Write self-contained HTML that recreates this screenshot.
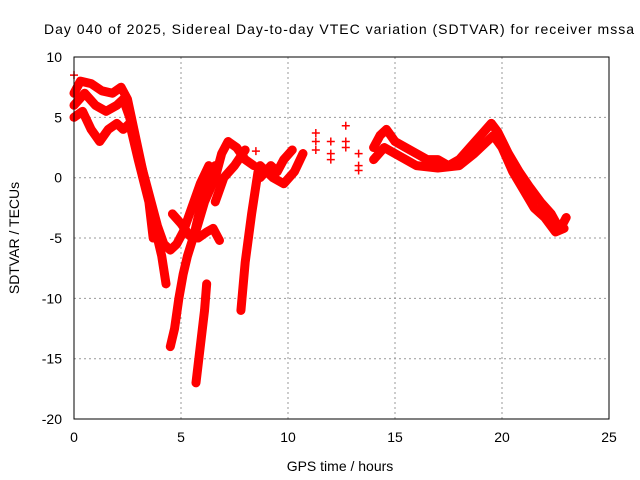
<!DOCTYPE html>
<html><head><meta charset="utf-8"><style>
body{margin:0;background:#fff}
svg{display:block;font-family:"Liberation Sans",sans-serif}
</style></head><body>
<svg id="c" width="640" height="480">
<text x="339" y="34" text-anchor="middle" font-size="14" textLength="590" lengthAdjust="spacing">Day 040 of 2025, Sidereal Day-to-day VTEC variation (SDTVAR) for receiver mssa</text>
<text x="340" y="471" text-anchor="middle" font-size="14">GPS time / hours</text>
<text transform="translate(19,238) rotate(-90)" text-anchor="middle" font-size="14">SDTVAR / TECUs</text>
<g id="grid"></g><g id="marks"></g><g id="ticks"></g>
<rect x="74" y="57" width="535" height="362" fill="none" stroke="#000"/>
</svg>
<script>
const xTicks=[0,5,10,15,20,25];
const yTicks=[10,5,0,-5,-10,-15,-20];
const track1=[[0,7],[0.3,8],[0.8,7.8],[1.3,7.2],[1.8,7],[2.2,7.5],[2.5,6.5],[2.8,4],[3.1,1.5],[3.4,-1],[3.7,-3],[3.9,-5],[4.1,-6.5],[4.3,-8.8]];
const track2=[[0,6],[0.5,7],[1,6],[1.5,5.5],[2,6],[2.3,6.5],[2.6,5],[3,2],[3.3,0],[3.6,-2],[3.9,-4],[4.2,-5.5],[4.5,-6],[4.8,-5.5],[5.1,-4.5],[5.5,-2.5],[5.9,-0.5],[6.3,1]];
const track3=[[0,5],[0.4,5.5],[0.8,4],[1.2,3],[1.6,4],[2,4.5],[2.3,4],[2.6,4.5],[3,1.5],[3.5,-2],[3.7,-5]];
const track4=[[4.5,-14],[4.7,-12.5],[4.9,-10],[5.1,-8],[5.3,-6.5],[5.6,-4.8],[5.9,-2.5],[6.2,-0.5],[6.6,1]];
const track5=[[5.7,-17],[5.9,-14],[6.1,-11],[6.2,-8.8]];
const track6=[[7.8,-11],[8,-7],[8.3,-3],[8.6,0.5]];
const track7=[[4.6,-3],[5,-3.8],[5.4,-4.8],[5.8,-5],[6.2,-4.5],[6.5,-4.2],[6.8,-5.2]];
const track8=[[5.6,-5],[6.1,-2],[6.6,0],[6.9,2],[7.2,3],[7.6,2.5],[8,1.5],[8.4,1]];
const track9=[[6.6,-2],[7,0],[7.5,1],[8,2.3]];
const track10=[[8.7,0],[9.2,1],[9.5,0.5],[9.8,1.5],[10.2,2.3]];
const track11=[[8.7,1],[9.3,0],[9.8,-0.5],[10.3,0.5],[10.7,2]];
const track12=[[14,2.5],[14.3,3.5],[14.6,4],[15,3],[15.5,2.5],[16,2],[16.5,1.5],[17,1.5],[17.5,1],[18,1.5],[18.5,2.5],[19,3.5],[19.5,4.5],[19.8,3.8],[20.3,2],[20.8,0.5],[21.3,-0.8],[21.8,-2],[22.3,-3],[22.7,-4.3],[23,-3.3]];
const track13=[[14,1.5],[14.5,2.5],[15,2],[16,1],[17,0.8],[18,1],[18.7,2],[19.3,3],[19.6,3.5],[20,2.5],[20.5,0.5],[21,-1],[21.5,-2.5],[22,-3.3],[22.5,-4.5],[22.9,-4.2]];
const scatter=[[11.3,3.7],[11.3,3],[11.3,2.3],[12,3],[12,2],[12,1.5],[12.7,4.3],[12.7,3],[12.7,2.5],[13.3,2],[13.3,1],[13.3,0.6],[8.5,2.2],[0,8.5]];
const tracks=[track1,track2,track3,track4,track5,track6,track7,track8,track9,track10,track11,track12,track13];
const X=t=>74+t*21.4, Y=v=>177.7-v*12.067;
const NS="http://www.w3.org/2000/svg";
function mk(tag,at,parent){const e=document.createElementNS(NS,tag);for(const k in at)e.setAttribute(k,at[k]);parent.appendChild(e);return e;}
const grid=document.getElementById('grid'),marks=document.getElementById('marks'),ticks=document.getElementById('ticks');
xTicks.forEach(t=>{
 if(t>0&&t<25){const g=mk('line',{x1:X(t),x2:X(t),y1:57,y2:419,stroke:'#999','stroke-dasharray':'2,3'},grid);
 
 }
 const l=mk('text',{x:X(t),y:442,'text-anchor':'middle','font-size':14},ticks);l.textContent=t;
 
 
});
yTicks.forEach(v=>{
 if(v<10&&v>-20){const g=mk('line',{x1:74,x2:609,y1:Y(v),y2:Y(v),stroke:'#999','stroke-dasharray':'2,3'},grid);
 
 }
 const l=mk('text',{x:62,y:Y(v)+5,'text-anchor':'end','font-size':14},ticks);l.textContent=v;
 
 
});
function plus(t,v){const p=mk('path',{d:`M${X(t)-4},${Y(v)}h8M${X(t)},${Y(v)-4}v8`,stroke:'#f00','stroke-width':1.5},marks);
 
 }
tracks.forEach(tr=>{
 const pl=mk('polyline',{points:tr.map(p=>X(p[0])+','+Y(p[1])).join(' '),fill:'none',stroke:'#f00','stroke-width':9,'stroke-linejoin':'round','stroke-linecap':'round'},marks);
 
 
 tr.forEach(p=>plus(p[0],p[1]));
});
scatter.forEach(p=>plus(p[0],p[1]));
</script>
</body></html>
